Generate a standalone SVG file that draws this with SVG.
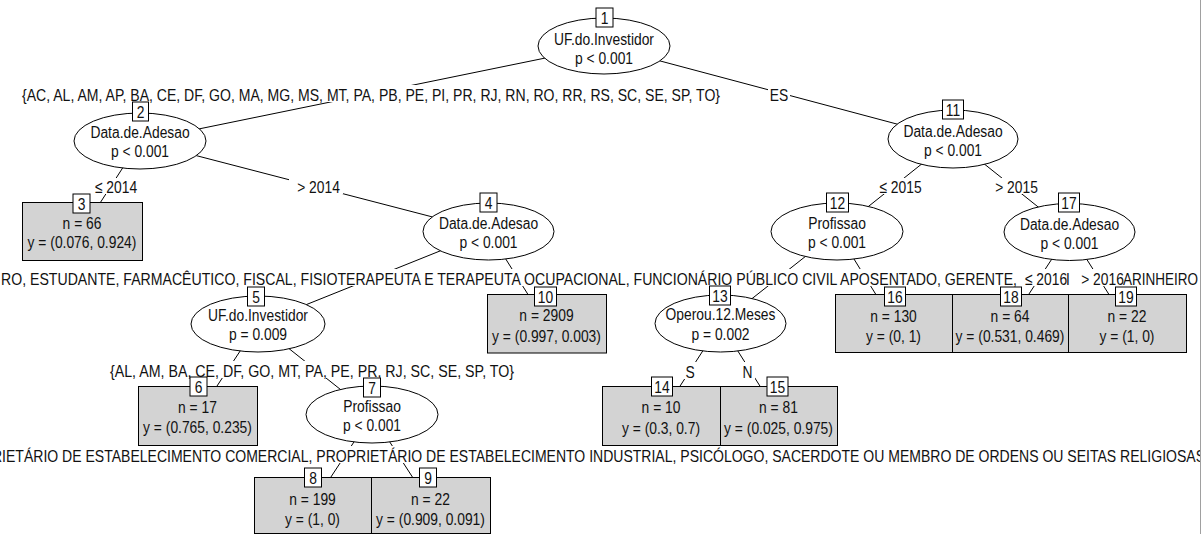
<svg xmlns="http://www.w3.org/2000/svg" width="1204" height="534" viewBox="0 0 1204 534">
<defs>
<style>
text { font-family: "Liberation Sans", Arial, sans-serif; font-size: 17.3px; fill: #111; }
.s { text-anchor: middle; transform-box: fill-box; transform-origin: center; transform: scaleX(0.8); }
.e { fill: #fff; stroke: #000; stroke-width: 1; }
.t { fill: #d3d3d3; stroke: #000; stroke-width: 1; }
.b { fill: #fff; stroke: #000; stroke-width: 1; }
.bg { fill: #fff; stroke: none; }
#edges line { stroke: #000; stroke-width: 1; }
</style>
<clipPath id="clip"><rect x="0" y="0" width="1200" height="534"/></clipPath>
</defs>
<rect x="0" y="0" width="1204" height="534" fill="#fff"/>

<g id="edges">
<line x1="604" y1="46" x2="140" y2="141"/>
<line x1="604" y1="46" x2="953" y2="139"/>
<line x1="140" y1="141" x2="82" y2="231"/>
<line x1="140" y1="141" x2="488.5" y2="231.5"/>
<line x1="488.5" y1="231.5" x2="258" y2="324"/>
<line x1="488.5" y1="231.5" x2="546.5" y2="324"/>
<line x1="258" y1="324" x2="197.5" y2="415.5"/>
<line x1="258" y1="324" x2="372" y2="414.5"/>
<line x1="372" y1="414.5" x2="312.5" y2="505"/>
<line x1="372" y1="414.5" x2="430.5" y2="505"/>
<line x1="953" y1="139" x2="837" y2="231.5"/>
<line x1="953" y1="139" x2="1069.5" y2="232"/>
<line x1="837" y1="231.5" x2="720.5" y2="323.5"/>
<line x1="837" y1="231.5" x2="893.5" y2="323"/>
<line x1="720.5" y1="323.5" x2="661" y2="415.5"/>
<line x1="720.5" y1="323.5" x2="778.5" y2="415.5"/>
<line x1="1069.5" y1="232" x2="1010" y2="323"/>
<line x1="1069.5" y1="232" x2="1127" y2="323"/>
</g>

<g id="edge-labels">
<rect class="bg" x="18" y="85" width="706" height="17"/>
<text x="22" y="101" textLength="698" lengthAdjust="spacingAndGlyphs">{AC, AL, AM, AP, BA, CE, DF, GO, MA, MG, MS, MT, PA, PB, PE, PI, PR, RJ, RN, RO, RR, RS, SC, SE, SP, TO}</text>
<rect class="bg" x="768" y="86" width="22" height="16"/>
<text class="s" x="779" y="101">ES</text>
<rect class="bg" x="92" y="178" width="48" height="16"/>
<text class="s" x="116" y="193">≤ 2014</text>
<rect class="bg" x="289" y="179" width="54" height="15"/>
<text class="s" x="318.5" y="193">&gt; 2014</text>
<rect class="bg" x="878" y="178" width="45" height="16"/>
<text class="s" x="900.5" y="193">≤ 2015</text>
<rect class="bg" x="994" y="178" width="46" height="16"/>
<text class="s" x="1016.5" y="193">&gt; 2015</text>

<rect class="bg" x="0" y="269" width="1200" height="17"/>
<text x="1" y="285" textLength="1016" lengthAdjust="spacingAndGlyphs">RO, ESTUDANTE, FARMACÊUTICO, FISCAL, FISIOTERAPEUTA E TERAPEUTA OCUPACIONAL, FUNCIONÁRIO PÚBLICO CIVIL APOSENTADO, GERENTE,</text>
<text class="s" x="1046" y="285">≤ 2016</text>
<text x="1066" y="285" textLength="3.8" lengthAdjust="spacingAndGlyphs">I</text>
<text class="s" x="1102.5" y="285">&gt; 2016</text>
<text x="1123" y="285" textLength="75" lengthAdjust="spacingAndGlyphs">ARINHEIRO</text>

<rect class="bg" x="106" y="361" width="412" height="17"/>
<text x="110" y="377" textLength="404" lengthAdjust="spacingAndGlyphs">{AL, AM, BA, CE, DF, GO, MT, PA, PE, PR, RJ, SC, SE, SP, TO}</text>
<rect class="bg" x="683" y="362" width="14" height="17"/>
<text class="s" x="690" y="378">S</text>
<rect class="bg" x="740" y="362" width="15" height="17"/>
<text class="s" x="747.5" y="378">N</text>

<rect class="bg" x="0" y="446" width="1200" height="17"/>
<g clip-path="url(#clip)">
<text x="-8" y="462" textLength="1213" lengthAdjust="spacingAndGlyphs">RIETÁRIO DE ESTABELECIMENTO COMERCIAL, PROPRIETÁRIO DE ESTABELECIMENTO INDUSTRIAL, PSICÓLOGO, SACERDOTE OU MEMBRO DE ORDENS OU SEITAS RELIGIOSAS</text>
</g>
</g>

<g id="node1">
<ellipse class="e" cx="604" cy="46" rx="66" ry="28"/>
<rect class="b" x="596" y="8" width="17" height="19"/>
<text class="s" x="604.5" y="24">1</text>
<text class="s" x="604" y="45">UF.do.Investidor</text>
<text class="s" x="604" y="64">p &lt; 0.001</text>
</g>
<g id="node2">
<ellipse class="e" cx="140" cy="141" rx="66" ry="28"/>
<rect class="b" x="132.5" y="102" width="16" height="19"/>
<text class="s" x="140.5" y="118">2</text>
<text class="s" x="140" y="138.5">Data.de.Adesao</text>
<text class="s" x="140" y="157.5">p &lt; 0.001</text>
</g>
<g id="node3">
<rect class="t" x="22.5" y="202.5" width="120" height="58"/>
<rect class="b" x="73" y="194" width="17" height="19"/>
<text class="s" x="81.5" y="210">3</text>
<text class="s" x="82" y="229">n = 66</text>
<text class="s" x="82" y="248.5">y = (0.076, 0.924)</text>
</g>
<g id="node4">
<ellipse class="e" cx="488.5" cy="231.5" rx="65.5" ry="28.5"/>
<rect class="b" x="480" y="193" width="17" height="19"/>
<text class="s" x="488.5" y="209">4</text>
<text class="s" x="488.5" y="229">Data.de.Adesao</text>
<text class="s" x="488.5" y="248">p &lt; 0.001</text>
</g>
<g id="node5">
<ellipse class="e" cx="258" cy="324" rx="67" ry="28"/>
<rect class="b" x="247.5" y="287" width="17" height="19"/>
<text class="s" x="256" y="303">5</text>
<text class="s" x="258" y="321.5">UF.do.Investidor</text>
<text class="s" x="258" y="340.5">p = 0.009</text>
</g>
<g id="node6">
<rect class="t" x="138.5" y="386.5" width="119" height="59"/>
<rect class="b" x="190" y="377" width="17" height="19"/>
<text class="s" x="198.5" y="393">6</text>
<text class="s" x="197.5" y="413.5">n = 17</text>
<text class="s" x="197.5" y="433.5">y = (0.765, 0.235)</text>
</g>
<g id="node7">
<ellipse class="e" cx="372" cy="414.5" rx="66" ry="28.5"/>
<rect class="b" x="363.5" y="378" width="17" height="19"/>
<text class="s" x="372" y="394">7</text>
<text class="s" x="372" y="412">Profissao</text>
<text class="s" x="372" y="431">p &lt; 0.001</text>
</g>
<g id="node8">
<rect class="t" x="254.5" y="477.5" width="117" height="56"/>
<rect class="b" x="304.5" y="468" width="17" height="19"/>
<text class="s" x="313" y="484">8</text>
<text class="s" x="312.5" y="505">n = 199</text>
<text class="s" x="312.5" y="525">y = (1, 0)</text>
</g>
<g id="node9">
<rect class="t" x="371.5" y="477.5" width="119" height="56"/>
<rect class="b" x="419.5" y="468" width="17" height="19"/>
<text class="s" x="428" y="484">9</text>
<text class="s" x="430.5" y="505">n = 22</text>
<text class="s" x="430.5" y="525">y = (0.909, 0.091)</text>
</g>
<g id="node10">
<rect class="t" x="487.5" y="294.5" width="119" height="58.5"/>
<rect class="b" x="534.5" y="287" width="22" height="19"/>
<text class="s" x="545.5" y="303">10</text>
<text class="s" x="546.5" y="321.5">n = 2909</text>
<text class="s" x="546.5" y="342">y = (0.997, 0.003)</text>
</g>
<g id="node11">
<ellipse class="e" cx="953" cy="139" rx="65" ry="29"/>
<rect class="b" x="942.5" y="100" width="21" height="19"/>
<text class="s" x="953" y="116">11</text>
<text class="s" x="953" y="137">Data.de.Adesao</text>
<text class="s" x="953" y="156">p &lt; 0.001</text>
</g>
<g id="node12">
<ellipse class="e" cx="837" cy="231.5" rx="66" ry="28.5"/>
<rect class="b" x="826.5" y="193" width="22" height="19"/>
<text class="s" x="837.5" y="209">12</text>
<text class="s" x="837" y="229.5">Profissao</text>
<text class="s" x="837" y="248">p &lt; 0.001</text>
</g>
<g id="node13">
<ellipse class="e" cx="720.5" cy="323.5" rx="65.5" ry="28.5"/>
<rect class="b" x="709.5" y="286" width="21" height="19"/>
<text class="s" x="720" y="302">13</text>
<text class="s" x="720.5" y="320.5">Operou.12.Meses</text>
<text class="s" x="720.5" y="340">p = 0.002</text>
</g>
<g id="node14">
<rect class="t" x="602.5" y="386.5" width="118" height="59"/>
<rect class="b" x="651.5" y="377" width="21" height="19"/>
<text class="s" x="662" y="393">14</text>
<text class="s" x="661" y="413.5">n = 10</text>
<text class="s" x="661" y="434">y = (0.3, 0.7)</text>
</g>
<g id="node15">
<rect class="t" x="720.5" y="386.5" width="117" height="59"/>
<rect class="b" x="767" y="377" width="21" height="19"/>
<text class="s" x="777.5" y="393">15</text>
<text class="s" x="778.5" y="413.5">n = 81</text>
<text class="s" x="778.5" y="434">y = (0.025, 0.975)</text>
</g>
<g id="node16">
<rect class="t" x="835.5" y="294.5" width="117" height="58"/>
<rect class="b" x="884.5" y="287" width="21" height="19"/>
<text class="s" x="895" y="303">16</text>
<text class="s" x="893.5" y="322">n = 130</text>
<text class="s" x="893.5" y="342">y = (0, 1)</text>
</g>
<g id="node17">
<ellipse class="e" cx="1069.5" cy="232" rx="65.5" ry="28.5"/>
<rect class="b" x="1058.5" y="193" width="21" height="19"/>
<text class="s" x="1069" y="209">17</text>
<text class="s" x="1069.5" y="230">Data.de.Adesao</text>
<text class="s" x="1069.5" y="249">p &lt; 0.001</text>
</g>
<g id="node18">
<rect class="t" x="952.5" y="294.5" width="116" height="58"/>
<rect class="b" x="1000.5" y="287" width="21" height="19"/>
<text class="s" x="1011" y="303">18</text>
<text class="s" x="1010" y="322">n = 64</text>
<text class="s" x="1010" y="342">y = (0.531, 0.469)</text>
</g>
<g id="node19">
<rect class="t" x="1068.5" y="294.5" width="118" height="58"/>
<rect class="b" x="1115.5" y="287" width="21" height="19"/>
<text class="s" x="1126" y="303">19</text>
<text class="s" x="1127" y="322">n = 22</text>
<text class="s" x="1127" y="342">y = (1, 0)</text>
</g>

<line x1="1200.5" y1="0" x2="1200.5" y2="534" stroke="#a0a0a0" stroke-width="1"/>
</svg>
